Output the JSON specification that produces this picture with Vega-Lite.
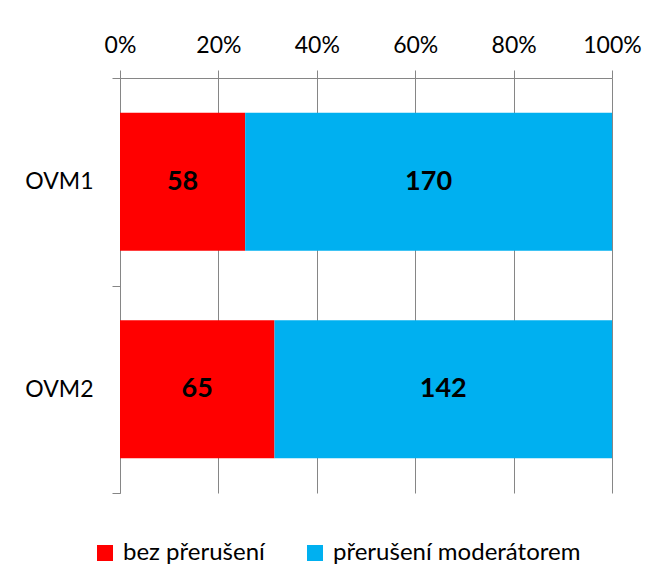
{
  "$schema": "https://vega.github.io/schema/vega-lite/v6.json",
  "autosize": "none",
  "padding": {"left": 120, "top": 78, "right": 54, "bottom": 86},
  "width": 492,
  "height": 415,
  "background": "white",
  "config": {
    "font": "Lato",
    "view": {"stroke": null},
    "axis": {"gridColor": "#868686", "domainColor": "#868686", "tickColor": "#868686", "labelColor": "black", "labelFont": "Lato"}
  },
  "data": {
    "values": [
      {"cat": "OVM1", "series": "bez přerušení", "value": 58},
      {"cat": "OVM1", "series": "přerušení moderátorem", "value": 170},
      {"cat": "OVM2", "series": "bez přerušení", "value": 65},
      {"cat": "OVM2", "series": "přerušení moderátorem", "value": 142}
    ]
  },
  "encoding": {
    "y": {
      "field": "cat", "type": "nominal", "title": null,
      "scale": {"paddingInner": 0, "paddingOuter": 0},
      "axis": {"labelFontSize": 23, "labelPadding": 19, "tickSize": 8, "tickBand": "extent", "domainWidth": 1}
    },
    "x": {
      "field": "value", "type": "quantitative", "aggregate": "sum", "stack": "normalize", "title": null,
      "scale": {"domain": [0, 1], "nice": false},
      "axis": {"orient": "top", "format": "%", "values": [0, 0.2, 0.4, 0.6, 0.8, 1], "labelFontSize": 23, "labelPadding": 13, "tickSize": 8, "grid": true, "domain": true, "labelFlush": false}
    }
  },
  "layer": [
    {
      "mark": {"type": "bar", "height": {"band": 0.665}},
      "encoding": {
        "color": {
          "field": "series", "type": "nominal", "title": null,
          "scale": {"domain": ["bez přerušení", "přerušení moderátorem"], "range": ["#FF0000", "#00B0F0"]},
          "legend": {"orient": "none", "direction": "horizontal", "legendX": -27, "legendY": 463, "symbolType": "square", "symbolSize": 256, "symbolStrokeWidth": 0, "labelFontSize": 24, "labelFont": "Lato", "labelColor": "black", "labelLimit": 500, "columnPadding": 38, "labelOffset": 6}
        }
      }
    },
    {
      "mark": {"type": "text", "fontSize": 27, "fontWeight": "bold", "color": "black", "font": "Lato"},
      "encoding": {
        "x": {"field": "value", "type": "quantitative", "aggregate": "sum", "stack": "normalize", "bandPosition": 0.5},
        "detail": {"field": "series"},
        "text": {"field": "value", "type": "quantitative", "aggregate": "sum"}
      }
    }
  ]
}
